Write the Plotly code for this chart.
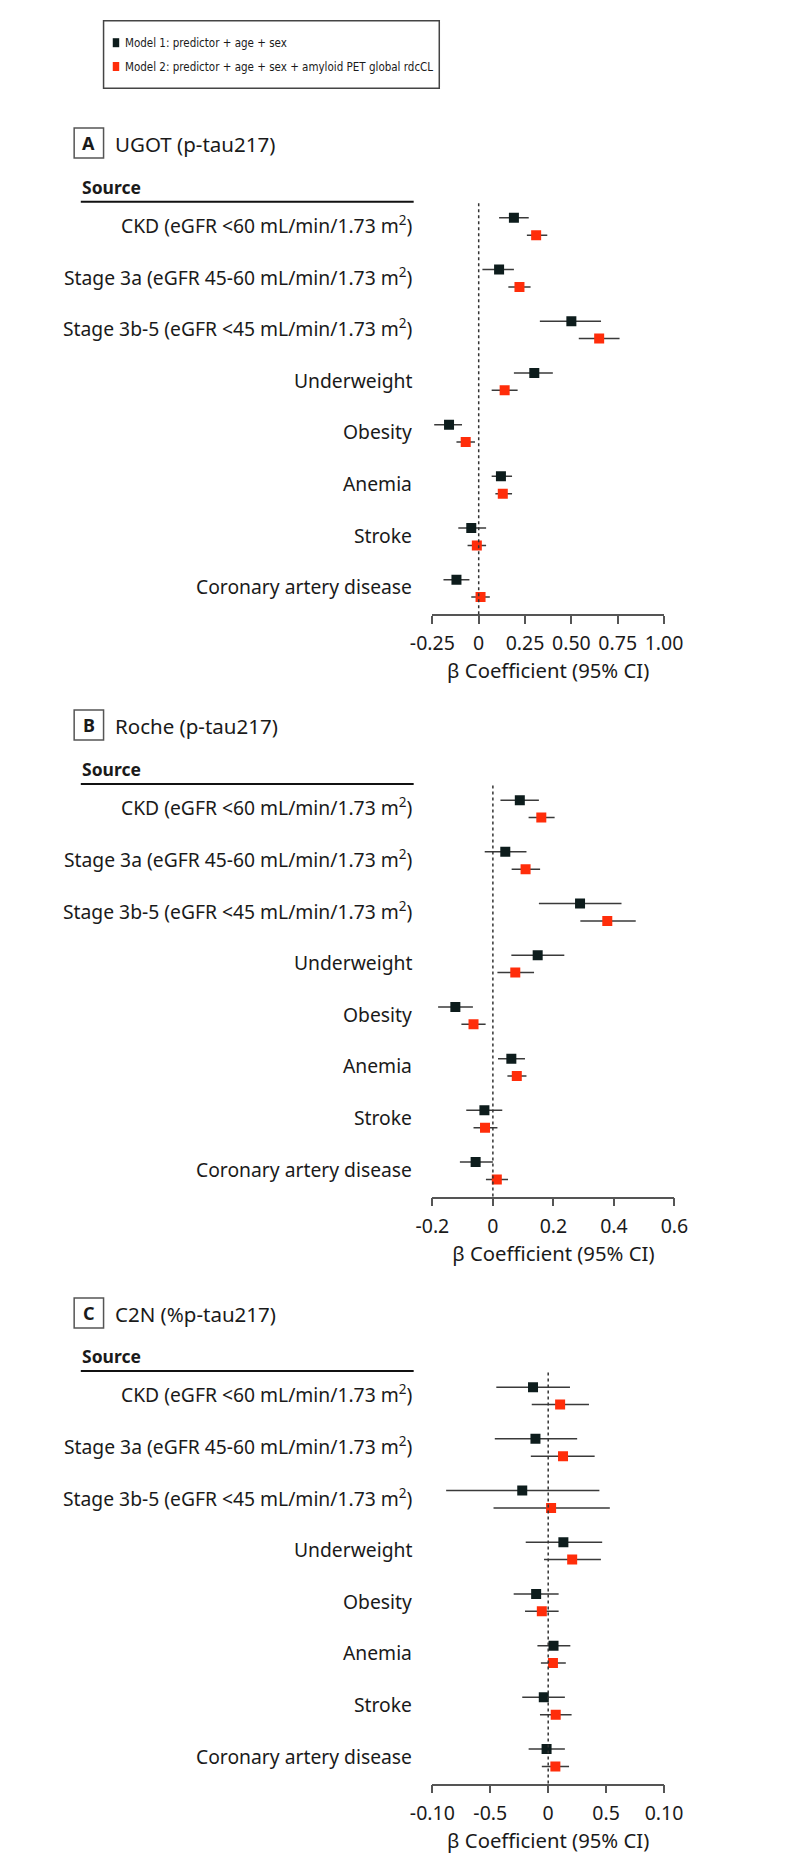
import plotly.graph_objects as go

W, H = 794, 1867

sources = [
    "CKD (eGFR <60 mL/min/1.73 m<sup>2</sup>)",
    "Stage 3a (eGFR 45-60 mL/min/1.73 m<sup>2</sup>)",
    "Stage 3b-5 (eGFR <45 mL/min/1.73 m<sup>2</sup>)",
    "Underweight",
    "Obesity",
    "Anemia",
    "Stroke",
    "Coronary artery disease",
]

model_names = ["Model 1: predictor + age + sex",
               "Model 2: predictor + age + sex + amyloid PET global rdcCL"]

panel_letters = ["A", "B", "C"]
panel_titles = ["UGOT (p-tau217)", "Roche (p-tau217)", "C2N (%p-tau217)"]

# Panel A: UGOT
A_m1_est = [0.19, 0.11, 0.50, 0.30, -0.16, 0.12, -0.04, -0.12]
A_m1_lo = [0.11, 0.02, 0.33, 0.19, -0.24, 0.07, -0.11, -0.19]
A_m1_hi = [0.27, 0.19, 0.66, 0.40, -0.09, 0.18, 0.04, -0.05]
A_m2_est = [0.31, 0.22, 0.65, 0.14, -0.07, 0.13, -0.01, 0.01]
A_m2_lo = [0.26, 0.16, 0.54, 0.07, -0.12, 0.09, -0.06, -0.04]
A_m2_hi = [0.37, 0.28, 0.76, 0.21, -0.02, 0.18, 0.04, 0.06]

# Panel B: Roche
B_m1_est = [0.089, 0.041, 0.288, 0.148, -0.124, 0.061, -0.028, -0.057]
B_m1_lo = [0.025, -0.027, 0.152, 0.061, -0.181, 0.017, -0.088, -0.109]
B_m1_hi = [0.152, 0.111, 0.425, 0.236, -0.066, 0.106, 0.031, 0.000]
B_m2_est = [0.160, 0.108, 0.378, 0.074, -0.064, 0.079, -0.026, 0.013]
B_m2_lo = [0.118, 0.062, 0.289, 0.015, -0.104, 0.048, -0.064, -0.023]
B_m2_hi = [0.204, 0.156, 0.472, 0.136, -0.024, 0.111, 0.015, 0.050]

# Panel C: C2N
C_m1_est = [-0.0131, -0.0110, -0.0224, 0.0131, -0.0104, 0.0046, -0.0038, -0.0014]
C_m1_lo = [-0.0448, -0.0461, -0.0881, -0.0194, -0.0298, -0.0093, -0.0224, -0.0169]
C_m1_hi = [0.0188, 0.0250, 0.0442, 0.0466, 0.0090, 0.0191, 0.0144, 0.0144]
C_m2_est = [0.0103, 0.0128, 0.0025, 0.0207, -0.0055, 0.0041, 0.0065, 0.0062]
C_m2_lo = [-0.0142, -0.0150, -0.0472, -0.0036, -0.0200, -0.0063, -0.0071, -0.0055]
C_m2_hi = [0.0352, 0.0401, 0.0532, 0.0455, 0.0090, 0.0152, 0.0202, 0.0180]

A_ticks = [-0.25, 0, 0.25, 0.5, 0.75, 1.0]
A_ticktext = ["-0.25", "0", "0.25", "0.50", "0.75", "1.00"]
B_ticks = [-0.2, 0, 0.2, 0.4, 0.6]
B_ticktext = ["-0.2", "0", "0.2", "0.4", "0.6"]
C_ticks = [-0.10, -0.05, 0, 0.05, 0.10]
C_ticktext = ["-0.10", "-0.5", "0", "0.5", "0.10"]

x_title = "β Coefficient (95% CI)"

panels = [
    dict(m1=(A_m1_est, A_m1_lo, A_m1_hi), m2=(A_m2_est, A_m2_lo, A_m2_hi),
         ticks=A_ticks, ticktext=A_ticktext, xr=[-0.25, 1.0], x1px=677.0,
         top=201.7, boxc=143.0),
    dict(m1=(B_m1_est, B_m1_lo, B_m1_hi), m2=(B_m2_est, B_m2_lo, B_m2_hi),
         ticks=B_ticks, ticktext=B_ticktext, xr=[-0.2, 0.6], x1px=688.0,
         top=784.0, boxc=725.0),
    dict(m1=(C_m1_est, C_m1_lo, C_m1_hi), m2=(C_m2_est, C_m2_lo, C_m2_hi),
         ticks=C_ticks, ticktext=C_ticktext, xr=[-0.10, 0.10], x1px=677.0,
         top=1371.0, boxc=1313.0),
]

FONT = "Noto Sans"
TXT = "#1a1a1a"
C1 = "#0d1c1c"
C2 = "#ff2d0a"
ERR = "#3a3a3a"
AX = "#555555"

ROW_PX = 51.7
Y_TOP_PAD = 0.48
Y_BOT_PAD = 0.50
OFF = 0.168


def py(p):
    return 1 - p / H


def px(p):
    return p / W


fig = go.Figure()
shapes = []
annotations = []
layout_axes = {}

for k, pan in enumerate(panels):
    sfx = "" if k == 0 else str(k + 1)
    xa, ya = "x" + sfx, "y" + sfx
    n = len(sources)
    height_px = (n - 1 + Y_TOP_PAD + Y_BOT_PAD) * ROW_PX
    top = pan["top"]
    bot = top + height_px
    for mi, (key, col) in enumerate([("m1", C1), ("m2", C2)]):
        est, lo, hi = pan[key]
        yy = [i + (-OFF if mi == 0 else OFF) for i in range(n)]
        fig.add_trace(go.Scatter(
            x=est, y=yy, xaxis=xa, yaxis=ya, mode="markers",
            name=model_names[mi], showlegend=False,
            marker=dict(symbol="square", size=10, color=col, line=dict(width=0)),
            error_x=dict(type="data", symmetric=False,
                         array=[h - e for h, e in zip(hi, est)],
                         arrayminus=[e - l for e, l in zip(est, lo)],
                         width=0, thickness=1.5, color=ERR),
            hoverinfo="skip",
        ))
    layout_axes["xaxis" + sfx] = dict(
        domain=[px(432.7), px(pan["x1px"])], range=pan["xr"], anchor=ya,
        showgrid=False, zeroline=False, showline=True, linecolor=AX, linewidth=1.5,
        ticks="outside", ticklen=8, tickwidth=1.5, tickcolor=AX,
        tickvals=pan["ticks"], ticktext=pan["ticktext"],
        tickfont=dict(family=FONT, size=19.5, color=TXT), ticklabelstandoff=3,
        title=dict(text=x_title, font=dict(family=FONT, size=20.3, color=TXT), standoff=6),
        fixedrange=True,
    )
    layout_axes["yaxis" + sfx] = dict(
        domain=[py(bot), py(top)], range=[n - 1 + Y_BOT_PAD, -Y_TOP_PAD], anchor=xa,
        showgrid=False, zeroline=False, showline=False, showticklabels=False,
        ticks="", fixedrange=True,
    )
    # reference line at 0
    shapes.append(dict(type="line", xref=xa, yref=ya + " domain", x0=0, x1=0, y0=0, y1=1,
                       line=dict(color="#333333", width=1.5, dash="dot")))
    # row labels
    for i, s in enumerate(sources):
        annotations.append(dict(text=s, xref="paper", yref=ya, x=px(413), y=i - 0.03,
                                xanchor="right", yanchor="middle", showarrow=False,
                                font=dict(family=FONT, size=19.3, color=TXT)))
    # header
    bc = pan["boxc"]
    shapes.append(dict(type="rect", xref="paper", yref="paper",
                       x0=px(55), x1=px(86), y0=py(bc + 15), y1=py(bc - 15),
                       line=dict(color=AX, width=1.5)))
    annotations.append(dict(text="<b>" + panel_letters[k] + "</b>", xref="paper", yref="paper",
                            x=px(70.5), y=py(bc), xanchor="center", yanchor="middle",
                            showarrow=False, font=dict(family=FONT, size=18, color=TXT)))
    annotations.append(dict(text=panel_titles[k], xref="paper", yref="paper",
                            x=px(96), y=py(bc + 1), xanchor="left", yanchor="middle",
                            showarrow=False, font=dict(family=FONT, size=20.5, color=TXT)))
    annotations.append(dict(text="<b>Source</b>", xref="paper", yref="paper",
                            x=px(61), y=py(top - 15), xanchor="left", yanchor="middle",
                            showarrow=False, font=dict(family=FONT, size=17.5, color=TXT)))
    shapes.append(dict(type="line", xref="paper", yref="paper",
                       x0=px(62), x1=px(413), y0=py(top), y1=py(top),
                       line=dict(color="#111111", width=2)))

# legend box
LFONT = "DejaVu Sans Condensed, Liberation Sans Narrow, DejaVu Sans"
shapes.append(dict(type="rect", xref="paper", yref="paper",
                   x0=px(86), x1=px(440), y0=py(88.3), y1=py(20.7),
                   line=dict(color="#444444", width=1.5)))
for mi, (col, yc) in enumerate([(C1, 42.7), (C2, 66.5)]):
    shapes.append(dict(type="rect", xref="paper", yref="paper",
                       x0=px(95.7), x1=px(102.5), y0=py(yc + 4.5), y1=py(yc - 4.5),
                       line=dict(width=0), fillcolor=col))
    annotations.append(dict(text=model_names[mi], xref="paper", yref="paper",
                            x=px(106), y=py(yc), xanchor="left", yanchor="middle",
                            showarrow=False, font=dict(family=LFONT, size=11.5, color=TXT)))

fig.update_layout(
    width=W, height=H, autosize=False,
    margin=dict(l=0, r=0, t=0, b=0),
    paper_bgcolor="white", plot_bgcolor="white",
    showlegend=False, shapes=shapes, annotations=annotations,
    **layout_axes,
)

fig.write_html("out.html")
